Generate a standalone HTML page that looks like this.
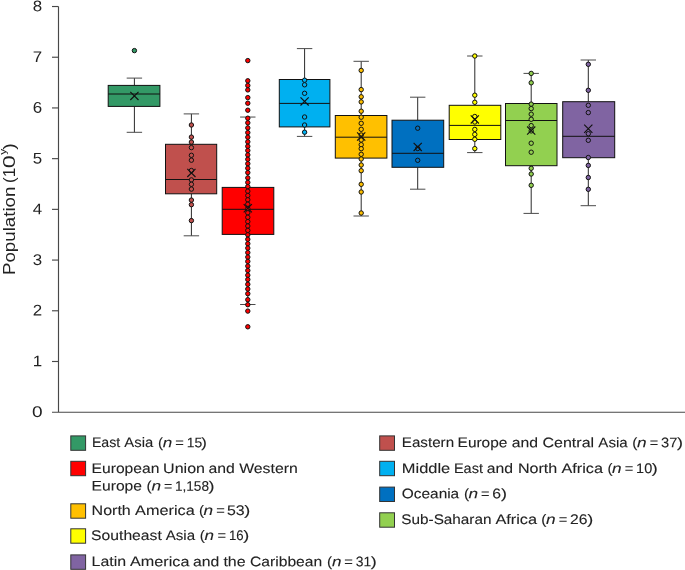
<!DOCTYPE html>
<html><head><meta charset="utf-8"><title>Population box plot</title>
<style>
html,body{margin:0;padding:0;background:#fff}
body{width:685px;height:570px;position:relative;overflow:hidden;font-family:"Liberation Sans",sans-serif}
</style></head><body>
<svg width="685" height="570" viewBox="0 0 685 570" style="position:absolute;left:0;top:0">
<g stroke="#484848" stroke-width="1.15" fill="none">
<path d="M58.5 6.5V412.2M52 412.25H685"/>
<path d="M52 361.49H58.5"/>
<path d="M52 310.78H58.5"/>
<path d="M52 260.07H58.5"/>
<path d="M52 209.36H58.5"/>
<path d="M52 158.65H58.5"/>
<path d="M52 107.94H58.5"/>
<path d="M52 57.23H58.5"/>
<path d="M52 6.52H58.5"/>
</g>
<g font-family="Liberation Sans, sans-serif" font-size="15.4" fill="#222" transform="rotate(0.03)">
<text x="32.25" y="417.00" textLength="10.6" lengthAdjust="spacingAndGlyphs">0</text>
<text x="32.85" y="366.29" textLength="9.4" lengthAdjust="spacingAndGlyphs">1</text>
<text x="32.85" y="315.58" textLength="9.4" lengthAdjust="spacingAndGlyphs">2</text>
<text x="32.85" y="264.87" textLength="9.4" lengthAdjust="spacingAndGlyphs">3</text>
<text x="32.85" y="214.16" textLength="9.4" lengthAdjust="spacingAndGlyphs">4</text>
<text x="32.85" y="163.45" textLength="9.4" lengthAdjust="spacingAndGlyphs">5</text>
<text x="32.85" y="112.74" textLength="9.4" lengthAdjust="spacingAndGlyphs">6</text>
<text x="32.85" y="62.03" textLength="9.4" lengthAdjust="spacingAndGlyphs">7</text>
<text x="32.85" y="11.32" textLength="9.4" lengthAdjust="spacingAndGlyphs">8</text>
</g>
<g transform="translate(14.7 275) rotate(-90)" font-family="Liberation Sans, sans-serif" font-size="16.6" fill="#222"><text y="0"><tspan x="0" textLength="88.4" lengthAdjust="spacingAndGlyphs">Population</tspan> <tspan x="92" textLength="15.2" lengthAdjust="spacingAndGlyphs">(1</tspan><tspan x="106.7" textLength="13" lengthAdjust="spacingAndGlyphs">0</tspan><tspan x="120.2" dy="-8.7" font-size="9" textLength="6" lengthAdjust="spacingAndGlyphs">y</tspan><tspan x="125.3" dy="8.7" textLength="6.5" lengthAdjust="spacingAndGlyphs">)</tspan></text></g>
<g stroke="#111" stroke-width="1" fill="#339966">
<path fill="none" stroke="#2a2a2a" d="M134.4 78.1V85.4M134.4 106.4V132.3"/>
<path fill="none" stroke="#4a4a4a" d="M126.7 78.1H142.1M126.7 132.3H142.1"/>
<rect x="108.2" y="85.4" width="51.7" height="21.0"/>
<path fill="none" d="M108.2 94.0H159.9"/>
<circle cx="134.4" cy="50.6" r="2.2"/>
<path fill="none" stroke-width="1.15" d="M130.3 91.80000000000001L138.5 100.0M130.3 100.0L138.5 91.80000000000001"/>
</g>
<g stroke="#111" stroke-width="1" fill="#C0504D">
<path fill="none" stroke="#2a2a2a" d="M191.4 113.9V144.3M191.4 193.8V235.8"/>
<path fill="none" stroke="#4a4a4a" d="M183.70000000000002 113.9H199.1M183.70000000000002 235.8H199.1"/>
<rect x="165.5" y="144.3" width="51.2" height="49.5"/>
<path fill="none" d="M165.5 179.5H216.7"/>
<circle cx="191.4" cy="125.0" r="2.2"/>
<circle cx="191.4" cy="137.1" r="2.2"/>
<circle cx="191.4" cy="142.1" r="2.2"/>
<circle cx="191.4" cy="147.6" r="2.2"/>
<circle cx="191.4" cy="155.3" r="2.2"/>
<circle cx="191.4" cy="160.2" r="2.2"/>
<circle cx="191.4" cy="170.5" r="2.2"/>
<circle cx="191.4" cy="179.9" r="2.2"/>
<circle cx="191.4" cy="184.3" r="2.2"/>
<circle cx="191.4" cy="189.1" r="2.2"/>
<circle cx="191.4" cy="200.1" r="2.2"/>
<circle cx="191.4" cy="204.7" r="2.2"/>
<circle cx="191.4" cy="220.6" r="2.2"/>
<path fill="none" stroke-width="1.15" d="M187.3 168.8L195.5 177.0M187.3 177.0L195.5 168.8"/>
</g>
<g stroke="#111" stroke-width="1" fill="#FF0000">
<path fill="none" stroke="#2a2a2a" d="M247.8 117.05V187.4M247.8 234.4V304.5"/>
<path fill="none" stroke="#4a4a4a" d="M240.10000000000002 117.05H255.5M240.10000000000002 304.5H255.5"/>
<rect x="222.2" y="187.4" width="51.6" height="47.0"/>
<path fill="none" d="M222.2 209.3H273.8"/>
<circle cx="247.8" cy="60.6" r="2.2"/>
<circle cx="247.8" cy="80.8" r="2.2"/>
<circle cx="247.8" cy="85.5" r="2.2"/>
<circle cx="247.8" cy="89.9" r="2.2"/>
<circle cx="247.8" cy="97.6" r="2.2"/>
<circle cx="247.8" cy="103.2" r="2.2"/>
<circle cx="247.8" cy="110.2" r="2.2"/>
<circle cx="247.8" cy="118.2" r="2.2"/>
<circle cx="247.8" cy="122.8" r="2.2"/>
<circle cx="247.8" cy="127.9" r="2.2"/>
<circle cx="247.8" cy="132.6" r="2.2"/>
<circle cx="247.8" cy="137.2" r="2.2"/>
<circle cx="247.8" cy="141.8" r="2.2"/>
<circle cx="247.8" cy="146.3" r="2.2"/>
<circle cx="247.8" cy="150.5" r="2.2"/>
<circle cx="247.8" cy="154.9" r="2.2"/>
<circle cx="247.8" cy="159.3" r="2.2"/>
<circle cx="247.8" cy="163.7" r="2.2"/>
<circle cx="247.8" cy="168.2" r="2.2"/>
<circle cx="247.8" cy="172.6" r="2.2"/>
<circle cx="247.8" cy="177.9" r="2.2"/>
<circle cx="247.8" cy="182.4" r="2.2"/>
<circle cx="247.8" cy="186.6" r="2.2"/>
<circle cx="247.8" cy="191.2" r="2.2"/>
<circle cx="247.8" cy="195.5" r="2.2"/>
<circle cx="247.8" cy="199.8" r="2.2"/>
<circle cx="247.8" cy="204.2" r="2.2"/>
<circle cx="247.8" cy="208.6" r="2.2"/>
<circle cx="247.8" cy="212.8" r="2.2"/>
<circle cx="247.8" cy="217.3" r="2.2"/>
<circle cx="247.8" cy="221.6" r="2.2"/>
<circle cx="247.8" cy="226.0" r="2.2"/>
<circle cx="247.8" cy="230.4" r="2.2"/>
<circle cx="247.8" cy="234.8" r="2.2"/>
<circle cx="247.8" cy="239.3" r="2.2"/>
<circle cx="247.8" cy="243.7" r="2.2"/>
<circle cx="247.8" cy="248.1" r="2.2"/>
<circle cx="247.8" cy="252.6" r="2.2"/>
<circle cx="247.8" cy="257.1" r="2.2"/>
<circle cx="247.8" cy="261.4" r="2.2"/>
<circle cx="247.8" cy="266.1" r="2.2"/>
<circle cx="247.8" cy="270.5" r="2.2"/>
<circle cx="247.8" cy="275.2" r="2.2"/>
<circle cx="247.8" cy="279.5" r="2.2"/>
<circle cx="247.8" cy="284.3" r="2.2"/>
<circle cx="247.8" cy="289.0" r="2.2"/>
<circle cx="247.8" cy="293.7" r="2.2"/>
<circle cx="247.8" cy="299.7" r="2.2"/>
<circle cx="247.8" cy="304.7" r="2.2"/>
<circle cx="247.8" cy="311.1" r="2.2"/>
<circle cx="247.8" cy="326.8" r="2.2"/>
<path fill="none" stroke-width="1.15" d="M243.70000000000002 204.20000000000002L251.9 212.4M243.70000000000002 212.4L251.9 204.20000000000002"/>
</g>
<g stroke="#111" stroke-width="1" fill="#00B0F0">
<path fill="none" stroke="#2a2a2a" d="M304.6 48.6V79.5M304.6 126.9V136.4"/>
<path fill="none" stroke="#4a4a4a" d="M296.90000000000003 48.6H312.3M296.90000000000003 136.4H312.3"/>
<rect x="279.3" y="79.5" width="50.6" height="47.4"/>
<path fill="none" d="M279.3 103.4H329.9"/>
<circle cx="304.6" cy="80.2" r="2.2"/>
<circle cx="304.6" cy="84.8" r="2.2"/>
<circle cx="304.6" cy="93.3" r="2.2"/>
<circle cx="304.6" cy="117.0" r="2.2"/>
<circle cx="304.6" cy="125.0" r="2.2"/>
<circle cx="304.6" cy="132.2" r="2.2"/>
<path fill="none" stroke-width="1.15" d="M300.5 97.30000000000001L308.70000000000005 105.5M300.5 105.5L308.70000000000005 97.30000000000001"/>
</g>
<g stroke="#111" stroke-width="1" fill="#FFC000">
<path fill="none" stroke="#2a2a2a" d="M361.2 61.3V115.5M361.2 158.1V216.0"/>
<path fill="none" stroke="#4a4a4a" d="M353.5 61.3H368.9M353.5 216.0H368.9"/>
<rect x="335.3" y="115.5" width="51.6" height="42.6"/>
<path fill="none" d="M335.3 137.2H386.9"/>
<circle cx="361.2" cy="70.4" r="2.2"/>
<circle cx="361.2" cy="89.6" r="2.2"/>
<circle cx="361.2" cy="96.8" r="2.2"/>
<circle cx="361.2" cy="101.9" r="2.2"/>
<circle cx="361.2" cy="111.2" r="2.2"/>
<circle cx="361.2" cy="117.2" r="2.2"/>
<circle cx="361.2" cy="123.3" r="2.2"/>
<circle cx="361.2" cy="129.3" r="2.2"/>
<circle cx="361.2" cy="135.0" r="2.2"/>
<circle cx="361.2" cy="140.0" r="2.2"/>
<circle cx="361.2" cy="144.7" r="2.2"/>
<circle cx="361.2" cy="148.7" r="2.2"/>
<circle cx="361.2" cy="154.3" r="2.2"/>
<circle cx="361.2" cy="159.0" r="2.2"/>
<circle cx="361.2" cy="165.0" r="2.2"/>
<circle cx="361.2" cy="170.7" r="2.2"/>
<circle cx="361.2" cy="184.3" r="2.2"/>
<circle cx="361.2" cy="192.0" r="2.2"/>
<circle cx="361.2" cy="213.0" r="2.2"/>
<path fill="none" stroke-width="1.15" d="M357.09999999999997 132.4L365.3 140.6M357.09999999999997 140.6L365.3 132.4"/>
</g>
<g stroke="#111" stroke-width="1" fill="#0070C0">
<path fill="none" stroke="#2a2a2a" d="M417.7 97.2V120.2M417.7 167.3V189.2"/>
<path fill="none" stroke="#4a4a4a" d="M410.0 97.2H425.4M410.0 189.2H425.4"/>
<rect x="392.0" y="120.2" width="51.7" height="47.1"/>
<path fill="none" d="M392.0 153.3H443.7"/>
<circle cx="417.7" cy="128.2" r="2.2"/>
<circle cx="417.7" cy="148.5" r="2.2"/>
<circle cx="417.7" cy="160.3" r="2.2"/>
<path fill="none" stroke-width="1.15" d="M413.59999999999997 142.8L421.8 151.0M413.59999999999997 151.0L421.8 142.8"/>
</g>
<g stroke="#111" stroke-width="1" fill="#FFFF00">
<path fill="none" stroke="#2a2a2a" d="M474.8 56V105.3M474.8 139.5V152.6"/>
<path fill="none" stroke="#4a4a4a" d="M467.1 56H482.5M467.1 152.6H482.5"/>
<rect x="449.2" y="105.3" width="51.6" height="34.2"/>
<path fill="none" d="M449.2 125.4H500.8"/>
<circle cx="474.8" cy="56.0" r="2.2"/>
<circle cx="474.8" cy="95.2" r="2.2"/>
<circle cx="474.8" cy="102.3" r="2.2"/>
<circle cx="474.8" cy="116.5" r="2.2"/>
<circle cx="474.8" cy="122.0" r="2.2"/>
<circle cx="474.8" cy="129.4" r="2.2"/>
<circle cx="474.8" cy="134.4" r="2.2"/>
<circle cx="474.8" cy="139.3" r="2.2"/>
<circle cx="474.8" cy="148.6" r="2.2"/>
<path fill="none" stroke-width="1.15" d="M470.7 115.30000000000001L478.90000000000003 123.5M470.7 123.5L478.90000000000003 115.30000000000001"/>
</g>
<g stroke="#111" stroke-width="1" fill="#92D050">
<path fill="none" stroke="#2a2a2a" d="M531.2 73.4V103.5M531.2 165.7V213.4"/>
<path fill="none" stroke="#4a4a4a" d="M523.5 73.4H538.9000000000001M523.5 213.4H538.9000000000001"/>
<rect x="505.5" y="103.5" width="51.5" height="62.2"/>
<path fill="none" d="M505.5 120.5H557"/>
<circle cx="531.2" cy="73.4" r="2.2"/>
<circle cx="531.2" cy="82.8" r="2.2"/>
<circle cx="531.2" cy="104.1" r="2.2"/>
<circle cx="531.2" cy="108.6" r="2.2"/>
<circle cx="531.2" cy="114.2" r="2.2"/>
<circle cx="531.2" cy="119.3" r="2.2"/>
<circle cx="531.2" cy="125.6" r="2.2"/>
<circle cx="531.2" cy="130.9" r="2.2"/>
<circle cx="531.2" cy="143.2" r="2.2"/>
<circle cx="531.2" cy="152.2" r="2.2"/>
<circle cx="531.2" cy="168.3" r="2.2"/>
<circle cx="531.2" cy="174.0" r="2.2"/>
<circle cx="531.2" cy="185.3" r="2.2"/>
<path fill="none" stroke-width="1.15" d="M527.1 126.5L535.3000000000001 134.7M527.1 134.7L535.3000000000001 126.5"/>
</g>
<g stroke="#111" stroke-width="1" fill="#8064A2">
<path fill="none" stroke="#2a2a2a" d="M588.3 60V101.7M588.3 157.7V205.7"/>
<path fill="none" stroke="#4a4a4a" d="M580.5999999999999 60H596.0M580.5999999999999 205.7H596.0"/>
<rect x="562.7" y="101.7" width="52.0" height="56.0"/>
<path fill="none" d="M562.7 136.3H614.7"/>
<circle cx="588.3" cy="64.3" r="2.2"/>
<circle cx="588.3" cy="90.3" r="2.2"/>
<circle cx="588.3" cy="105.3" r="2.2"/>
<circle cx="588.3" cy="112.6" r="2.2"/>
<circle cx="588.3" cy="133.7" r="2.2"/>
<circle cx="588.3" cy="140.3" r="2.2"/>
<circle cx="588.3" cy="157.5" r="2.2"/>
<circle cx="588.3" cy="165.4" r="2.2"/>
<circle cx="588.3" cy="177.5" r="2.2"/>
<circle cx="588.3" cy="189.3" r="2.2"/>
<path fill="none" stroke-width="1.15" d="M584.1999999999999 124.6L592.4 132.79999999999998M584.1999999999999 132.79999999999998L592.4 124.6"/>
</g>
</svg>
<svg width="685" height="570" viewBox="0 0 685 570" style="position:absolute;left:0;top:0"><g font-family="Liberation Sans, sans-serif" font-size="13.8" fill="#222" stroke="#222" stroke-width="0.1"><rect x="70.8" y="435.9" width="14.8" height="14.4" fill="#339966" stroke="#333" stroke-width="1"/><text y="447.1" transform="rotate(0.03 93 447)"><tspan x="91.9" textLength="28.4" lengthAdjust="spacingAndGlyphs">East</tspan> <tspan x="124.3" textLength="28.9" lengthAdjust="spacingAndGlyphs">Asia</tspan> <tspan x="157.9" textLength="5.0" lengthAdjust="spacingAndGlyphs">(</tspan><tspan x="162.7" textLength="9.5" lengthAdjust="spacingAndGlyphs" font-style="italic">n</tspan> <tspan x="175.3" textLength="8.6" lengthAdjust="spacingAndGlyphs">=</tspan> <tspan x="186.8" textLength="15.5" lengthAdjust="spacingAndGlyphs">15</tspan><tspan x="201.3" textLength="5.6" lengthAdjust="spacingAndGlyphs">)</tspan></text><rect x="70.8" y="461.3" width="14.8" height="14.4" fill="#FF0000" stroke="#333" stroke-width="1"/><text y="472.9" transform="rotate(0.03 92 473)"><tspan x="91.6" textLength="67.8" lengthAdjust="spacingAndGlyphs">European</tspan> <tspan x="163.1" textLength="41.9" lengthAdjust="spacingAndGlyphs">Union</tspan> <tspan x="208.5" textLength="26.3" lengthAdjust="spacingAndGlyphs">and</tspan> <tspan x="239.2" textLength="58.6" lengthAdjust="spacingAndGlyphs">Western</tspan></text><text y="490.6" transform="rotate(0.03 92 491)"><tspan x="91.6" textLength="50.4" lengthAdjust="spacingAndGlyphs">Europe</tspan> <tspan x="146.6" textLength="5.1" lengthAdjust="spacingAndGlyphs">(</tspan><tspan x="151.4" textLength="9.6" lengthAdjust="spacingAndGlyphs" font-style="italic">n</tspan> <tspan x="163.9" textLength="8.3" lengthAdjust="spacingAndGlyphs">=</tspan> <tspan x="174.9" textLength="34.1" lengthAdjust="spacingAndGlyphs">1,158</tspan><tspan x="208.6" textLength="6.0" lengthAdjust="spacingAndGlyphs">)</tspan></text><rect x="70.8" y="503.8" width="14.8" height="14.4" fill="#FFC000" stroke="#333" stroke-width="1"/><text y="515.0" transform="rotate(0.03 92 515)"><tspan x="91.6" textLength="39.2" lengthAdjust="spacingAndGlyphs">North</tspan> <tspan x="135.1" textLength="59.6" lengthAdjust="spacingAndGlyphs">America</tspan> <tspan x="199.0" textLength="5.0" lengthAdjust="spacingAndGlyphs">(</tspan><tspan x="203.5" textLength="9.6" lengthAdjust="spacingAndGlyphs" font-style="italic">n</tspan> <tspan x="216.2" textLength="8.6" lengthAdjust="spacingAndGlyphs">=</tspan> <tspan x="226.9" textLength="17.7" lengthAdjust="spacingAndGlyphs">53</tspan><tspan x="244.2" textLength="6.0" lengthAdjust="spacingAndGlyphs">)</tspan></text><rect x="70.8" y="528.8" width="14.8" height="14.4" fill="#FFFF00" stroke="#333" stroke-width="1"/><text y="540.0" transform="rotate(0.03 92 540)"><tspan x="91.1" textLength="70.7" lengthAdjust="spacingAndGlyphs">Southeast</tspan> <tspan x="165.7" textLength="29.4" lengthAdjust="spacingAndGlyphs">Asia</tspan> <tspan x="199.8" textLength="5.0" lengthAdjust="spacingAndGlyphs">(</tspan><tspan x="204.6" textLength="9.5" lengthAdjust="spacingAndGlyphs" font-style="italic">n</tspan> <tspan x="217.4" textLength="8.6" lengthAdjust="spacingAndGlyphs">=</tspan> <tspan x="228.9" textLength="14.7" lengthAdjust="spacingAndGlyphs">16</tspan><tspan x="243.2" textLength="6.0" lengthAdjust="spacingAndGlyphs">)</tspan></text><rect x="70.8" y="554.9" width="14.8" height="14.4" fill="#8064A2" stroke="#333" stroke-width="1"/><text y="566.1" transform="rotate(0.03 92 566)"><tspan x="91.6" textLength="34.5" lengthAdjust="spacingAndGlyphs">Latin</tspan> <tspan x="130.0" textLength="59.4" lengthAdjust="spacingAndGlyphs">America</tspan> <tspan x="192.9" textLength="26.3" lengthAdjust="spacingAndGlyphs">and</tspan> <tspan x="223.4" textLength="22.2" lengthAdjust="spacingAndGlyphs">the</tspan> <tspan x="250.0" textLength="72.2" lengthAdjust="spacingAndGlyphs">Caribbean</tspan> <tspan x="327.0" textLength="5.1" lengthAdjust="spacingAndGlyphs">(</tspan><tspan x="331.9" textLength="9.5" lengthAdjust="spacingAndGlyphs" font-style="italic">n</tspan> <tspan x="344.2" textLength="8.6" lengthAdjust="spacingAndGlyphs">=</tspan> <tspan x="355.7" textLength="15.5" lengthAdjust="spacingAndGlyphs">31</tspan><tspan x="370.8" textLength="6.0" lengthAdjust="spacingAndGlyphs">)</tspan></text><rect x="379.7" y="435.9" width="14.8" height="14.4" fill="#C0504D" stroke="#333" stroke-width="1"/><text y="447.1" transform="rotate(0.03 403 447)"><tspan x="401.8" textLength="52.3" lengthAdjust="spacingAndGlyphs">Eastern</tspan> <tspan x="457.6" textLength="49.8" lengthAdjust="spacingAndGlyphs">Europe</tspan> <tspan x="511.8" textLength="26.3" lengthAdjust="spacingAndGlyphs">and</tspan> <tspan x="542.5" textLength="51.6" lengthAdjust="spacingAndGlyphs">Central</tspan> <tspan x="598.3" textLength="29.4" lengthAdjust="spacingAndGlyphs">Asia</tspan> <tspan x="632.3" textLength="5.1" lengthAdjust="spacingAndGlyphs">(</tspan><tspan x="637.1" textLength="9.6" lengthAdjust="spacingAndGlyphs" font-style="italic">n</tspan> <tspan x="649.8" textLength="8.5" lengthAdjust="spacingAndGlyphs">=</tspan> <tspan x="661.0" textLength="16.3" lengthAdjust="spacingAndGlyphs">37</tspan><tspan x="676.9" textLength="6.0" lengthAdjust="spacingAndGlyphs">)</tspan></text><rect x="379.7" y="461.3" width="14.8" height="14.4" fill="#00B0F0" stroke="#333" stroke-width="1"/><text y="472.9" transform="rotate(0.03 403 473)"><tspan x="401.8" textLength="48.4" lengthAdjust="spacingAndGlyphs">Middle</tspan> <tspan x="453.9" textLength="29.1" lengthAdjust="spacingAndGlyphs">East</tspan> <tspan x="486.7" textLength="26.3" lengthAdjust="spacingAndGlyphs">and</tspan> <tspan x="517.9" textLength="39.4" lengthAdjust="spacingAndGlyphs">North</tspan> <tspan x="561.5" textLength="41.5" lengthAdjust="spacingAndGlyphs">Africa</tspan> <tspan x="607.4" textLength="5.0" lengthAdjust="spacingAndGlyphs">(</tspan><tspan x="612.1" textLength="9.6" lengthAdjust="spacingAndGlyphs" font-style="italic">n</tspan> <tspan x="624.8" textLength="8.6" lengthAdjust="spacingAndGlyphs">=</tspan> <tspan x="636.1" textLength="16.1" lengthAdjust="spacingAndGlyphs">10</tspan><tspan x="651.8" textLength="6.0" lengthAdjust="spacingAndGlyphs">)</tspan></text><rect x="379.7" y="487.1" width="14.8" height="14.4" fill="#0070C0" stroke="#333" stroke-width="1"/><text y="498.2" transform="rotate(0.03 403 498)"><tspan x="401.8" textLength="57.4" lengthAdjust="spacingAndGlyphs">Oceania</tspan> <tspan x="464.0" textLength="5.1" lengthAdjust="spacingAndGlyphs">(</tspan><tspan x="468.6" textLength="9.6" lengthAdjust="spacingAndGlyphs" font-style="italic">n</tspan> <tspan x="480.9" textLength="8.5" lengthAdjust="spacingAndGlyphs">=</tspan> <tspan x="492.3" textLength="8.8" lengthAdjust="spacingAndGlyphs">6</tspan><tspan x="500.9" textLength="6.0" lengthAdjust="spacingAndGlyphs">)</tspan></text><rect x="379.7" y="512.8" width="14.8" height="14.4" fill="#92D050" stroke="#333" stroke-width="1"/><text y="524.0" transform="rotate(0.03 402 524)"><tspan x="401.3" textLength="90.2" lengthAdjust="spacingAndGlyphs">Sub-Saharan</tspan> <tspan x="495.4" textLength="41.7" lengthAdjust="spacingAndGlyphs">Africa</tspan> <tspan x="541.3" textLength="5.1" lengthAdjust="spacingAndGlyphs">(</tspan><tspan x="546.1" textLength="9.6" lengthAdjust="spacingAndGlyphs" font-style="italic">n</tspan> <tspan x="558.8" textLength="8.6" lengthAdjust="spacingAndGlyphs">=</tspan> <tspan x="570.1" textLength="17.5" lengthAdjust="spacingAndGlyphs">26</tspan><tspan x="587.2" textLength="6.0" lengthAdjust="spacingAndGlyphs">)</tspan></text></g></svg>
</body></html>
